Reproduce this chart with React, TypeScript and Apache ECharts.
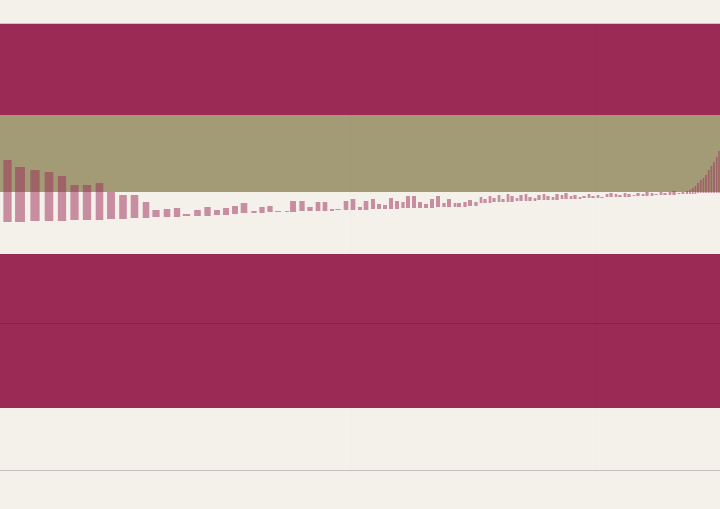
import React, { useEffect, useRef } from "react";
import * as echarts from "echarts";

// bar positions along the x scale
const posA = [7.5, 20, 35, 49, 62, 74.5, 87, 99.5, 111, 123, 134.5, 146, 156, 167, 177, 186.5, 197.5, 207.5, 217, 226, 235];
const highA = [33, 26, 23, 21, 17, 8, 8, 10, 1, -2, -2, -9, -17, -16, -15, -21, -17, -14, -17, -15, -13];
const lowA = [-29, -29, -28, -28, -28, -27, -27, -27, -26, -26, -25, -25, -24, -24, -24, -23, -23, -23, -22, -22, -21];

const posB = [244, 254, 262, 270, 278, 287, 293, 302, 310, 318, 325, 332, 338, 346, 353, 360, 366, 373, 379, 385, 391, 397, 403, 408, 414, 420, 426, 432, 438, 444, 449, 455, 459, 465, 470, 476];
const highB = [-10, -18, -14, -13, -18, -18, -8, -8, -14, -9, -9, -16, -16, -8, -6, -14, -8, -6, -11, -12, -5, -8, -9, -3, -3, -9, -11, -6, -3, -10, -6, -10, -10, -9, -7, -9];
const lowB = [-20, -20, -20, -19, -19, -19, -19, -18, -18, -18, -18, -18, -17, -17, -17, -17, -17, -16, -16, -16, -16, -16, -15, -15, -15, -15, -15, -15, -14, -14, -14, -14, -14, -14, -13, -13];

const posC = [481, 485, 490, 494, 499, 503, 508, 512, 517, 521, 526, 530, 535, 539, 544, 548, 553, 557, 562, 566, 571, 575, 580, 584, 589, 593, 598, 602, 607, 611, 616, 620, 625, 629, 634, 638, 643, 647, 652, 656, 661, 665, 670, 674, 679, 683, 687];
const highC = [-4, -6, -3, -5, -2, -6, -1, -3, -5, -2, -1, -4, -5, -2, -1, -3, -4, -1, -2, 0, -3, -2, -4, -3, -1, -3, -2, -4, -1, 0, -1, -2, 0, -1, -2, 0, -1, 1, 0, -1, 1, 0, 1, 2, 0, 1, 2];
const lowC = [-10, -10, -10, -9, -9, -9, -9, -9, -8, -8, -8, -8, -8, -7, -7, -7, -7, -7, -6, -6, -6, -6, -6, -5, -5, -5, -5, -5, -4, -4, -4, -4, -4, -4, -3, -3, -3, -3, -3, -2, -2, -2, -2, -2, -1, -1, -1];

const posD = [690, 692.7, 695.4, 698, 700.7, 703.4, 706, 708.7, 711.4, 714, 716.7, 719];
const highD = [3, 5, 7, 10, 13, 15, 18, 23, 27, 31, 36, 42];
const lowD = [-1, -1, -1, 0, 0, 0, 0, 0, 0, 0, 0, 0];

// horizontal bands [from, to]
const crimsonBands = [[78, 170], [-215, -61]];
const oliveBands = [[1, 78]];
const dividerLevels = [-130];
const verticalGuides = [350, 595];
const topLevel = 170;
const yMin = -277;
const yMax = 170;
const xMin = 0;
const xMax = 720;

const CREAM = "#f4f1eb";
const CRIMSON = "#9b2a55";
const OLIVE = "#a39b76";

export default function App() {
  const ref = useRef<HTMLDivElement>(null);
  useEffect(() => {
    if (!ref.current) return;
    const chart = echarts.init(ref.current, undefined, { renderer: "svg" });
    const pos = [...posA, ...posB, ...posC, ...posD];
    const high = [...highA, ...highB, ...highC, ...highD];
    const low = [...lowA, ...lowB, ...lowC, ...lowD];
    const data = pos.map((p, i) => {
      const gap = i < pos.length - 1 ? pos[i + 1] - p : p - pos[i - 1];
      return [p, low[i], high[i], gap * 0.33];
    });
    chart.setOption({
      animation: false,
      backgroundColor: CREAM,
      grid: { left: 0, right: 0, top: 23, bottom: 39 },
      xAxis: {
        type: "value",
        min: xMin,
        max: xMax,
        axisLine: { show: true, onZero: false, lineStyle: { color: "#c9bfc0", width: 1 } },
        axisTick: { show: false },
        axisLabel: { show: false },
        splitLine: { show: false },
      },
      yAxis: {
        type: "value",
        min: yMin,
        max: yMax,
        axisLine: { show: false },
        axisTick: { show: false },
        axisLabel: { show: false },
        splitLine: { show: false },
      },
      series: [
        {
          type: "line",
          data: [],
          z: 1,
          silent: true,
          markArea: {
            silent: true,
            data: [
              ...crimsonBands.map((b) => [
                { yAxis: b[0], itemStyle: { color: CRIMSON, opacity: 1 } },
                { yAxis: b[1] },
              ]),
              ...oliveBands.map((b) => [
                { yAxis: b[0], itemStyle: { color: OLIVE, opacity: 1 } },
                { yAxis: b[1] },
              ]),
            ],
          },
          markLine: {
            silent: true,
            symbol: "none",
            label: { show: false },
            data: [
              ...dividerLevels.map((v) => ({ yAxis: v, lineStyle: { color: "#87204a", width: 1, type: "solid" } })),
              { yAxis: topLevel, lineStyle: { color: "#cfc4c2", width: 1, type: "solid" } },
              ...verticalGuides.map((v) => ({ xAxis: v, lineStyle: { color: "rgba(0,0,0,0.015)", width: 1, type: "solid" } })),
            ],
          },
        },
        {
          type: "custom",
          z: 3,
          data,
          encode: { x: 0, y: [1, 2] },
          renderItem: (params: any, api: any) => {
            const x = api.value(0);
            const lo = api.value(1);
            const hi = api.value(2);
            const hw = api.value(3);
            const p1 = api.coord([x - hw, hi]);
            const p2 = api.coord([x + hw, lo]);
            return {
              type: "rect",
              shape: { x: p1[0], y: p1[1], width: p2[0] - p1[0], height: p2[1] - p1[1] },
              style: { fill: "rgba(155,42,85,0.5)" },
            };
          },
        },
      ],
    });
    return () => chart.dispose();
  }, []);
  return <div ref={ref} style={{ position: "fixed", left: 0, top: 0, width: 720, height: 509 }} />;
}
